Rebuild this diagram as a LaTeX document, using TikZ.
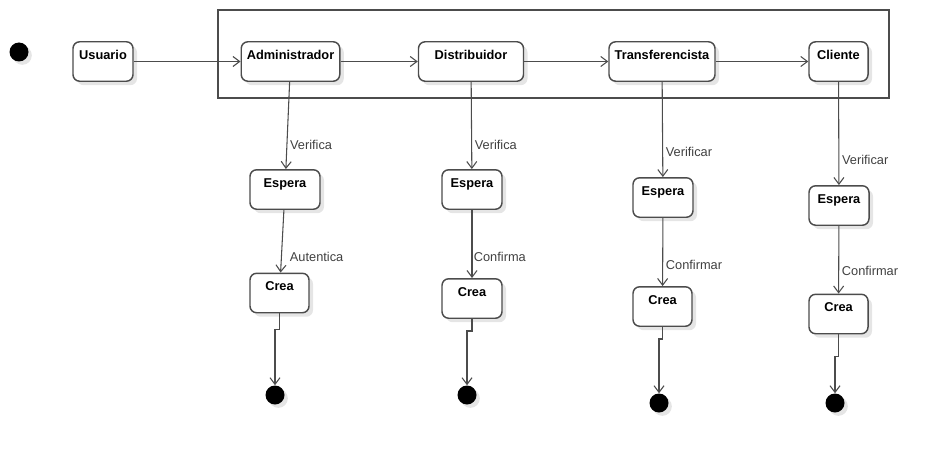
\documentclass[tikz,border=0pt]{standalone}
\usepackage{fontspec}
\setmainfont{Liberation Sans}
\usetikzlibrary{arrows.meta,shadows}

\tikzset{
  estado/.style={draw=black!70, line width=1.1pt, rounded corners=5pt, fill=white,
    font=\fontsize{9.6}{11}\selectfont\bfseries, inner xsep=1pt, inner ysep=3pt,
    text height=10pt, text depth=13.6pt,
    drop shadow={shadow xshift=3pt, shadow yshift=-3pt, fill=black!10, opacity=1}},
  punto/.style={circle, fill=black, minimum size=14.25pt, inner sep=0pt,
    drop shadow={shadow xshift=2.5pt, shadow yshift=-2.5pt, fill=black!10, opacity=1}},
  flujo/.style={draw=black!70, line width=0.8pt, -{Straight Barb[length=5pt,width=7.5pt]}},
  etiq/.style={font=\fontsize{9.6}{11}\selectfont, text=black!75, anchor=west, inner sep=2pt},
  marco/.style={draw=black!70, line width=0.8pt}
}

\begin{document}
\begin{tikzpicture}[x=0.75pt,y=-0.75pt]
\useasboundingbox (0,0) rectangle (937,453);

\draw[marco] (218,10) rectangle (889,98);

\node[punto] (ini) at (19,52) {};
\node[estado, minimum width=45pt] (usu) at (103,61.5) {Usuario};
\node[estado, minimum width=73.9pt] (adm) at (290.5,61.5) {Administrador};
\node[estado, minimum width=78.75pt] (dis) at (471,61.5) {Distribuidor};
\node[estado, minimum width=79.5pt] (tra) at (662,61.5) {Transferencista};
\node[estado, minimum width=44.25pt] (cli) at (838.5,61.5) {Cliente};

% columna de cada actor
\node[estado, minimum width=52.5pt] (esp1) at (285,189.5) {Espera};
\node[estado, minimum width=44.25pt] (crea1) at (279.5,293) {Crea};
\node[punto] (fin1) at (275,395) {};

\node[estado, minimum width=45pt] (esp2) at (472,189.5) {Espera};
\node[estado, minimum width=45pt] (crea2) at (472,298.5) {Crea};
\node[punto] (fin2) at (467,395) {};

\node[estado, minimum width=45pt] (esp3) at (663,197.5) {Espera};
\node[estado, minimum width=44.25pt] (crea3) at (662.5,306.5) {Crea};
\node[punto] (fin3) at (659,403) {};

\node[estado, minimum width=45pt] (esp4) at (839,205.5) {Espera};
\node[estado, minimum width=44.25pt] (crea4) at (838.5,314) {Crea};
\node[punto] (fin4) at (835,403) {};

\draw[flujo] (usu) -- (adm);
\draw[flujo] (adm) -- (dis);
\draw[flujo] (dis) -- (tra);
\draw[flujo] (tra) -- (cli);

\draw[flujo] (adm) -- (esp1) node[etiq, pos=.72] {Verifica};
\draw[flujo] (esp1) -- (crea1) node[etiq, pos=.75, xshift=4pt] {Autentica};
\draw[flujo] (dis) -- (esp2) node[etiq, pos=.72] {Verifica};
\draw[flujo] (esp2) -- (crea2) node[etiq, pos=.69, xshift=-1pt] {Confirma};
\draw[flujo] (tra) -- (esp3) node[etiq, pos=.74] {Verificar};
\draw[flujo] (esp3) -- (crea3) node[etiq, pos=.69] {Confirmar};
\draw[flujo] (cli) -- (esp4) node[etiq, pos=.76] {Verificar};
\draw[flujo] (esp4) -- (crea4) node[etiq, pos=.67] {Confirmar};

\draw[flujo] (crea1.south) -- ++(0,16) -| (fin1);
\draw[flujo] (crea2.south) -- ++(0,12) -| (fin2);
\draw[flujo] (crea3.south) -- ++(0,12) -| (fin3);
\draw[flujo] (crea4.south) -- ++(0,22) -| (fin4);
\end{tikzpicture}
\end{document}
